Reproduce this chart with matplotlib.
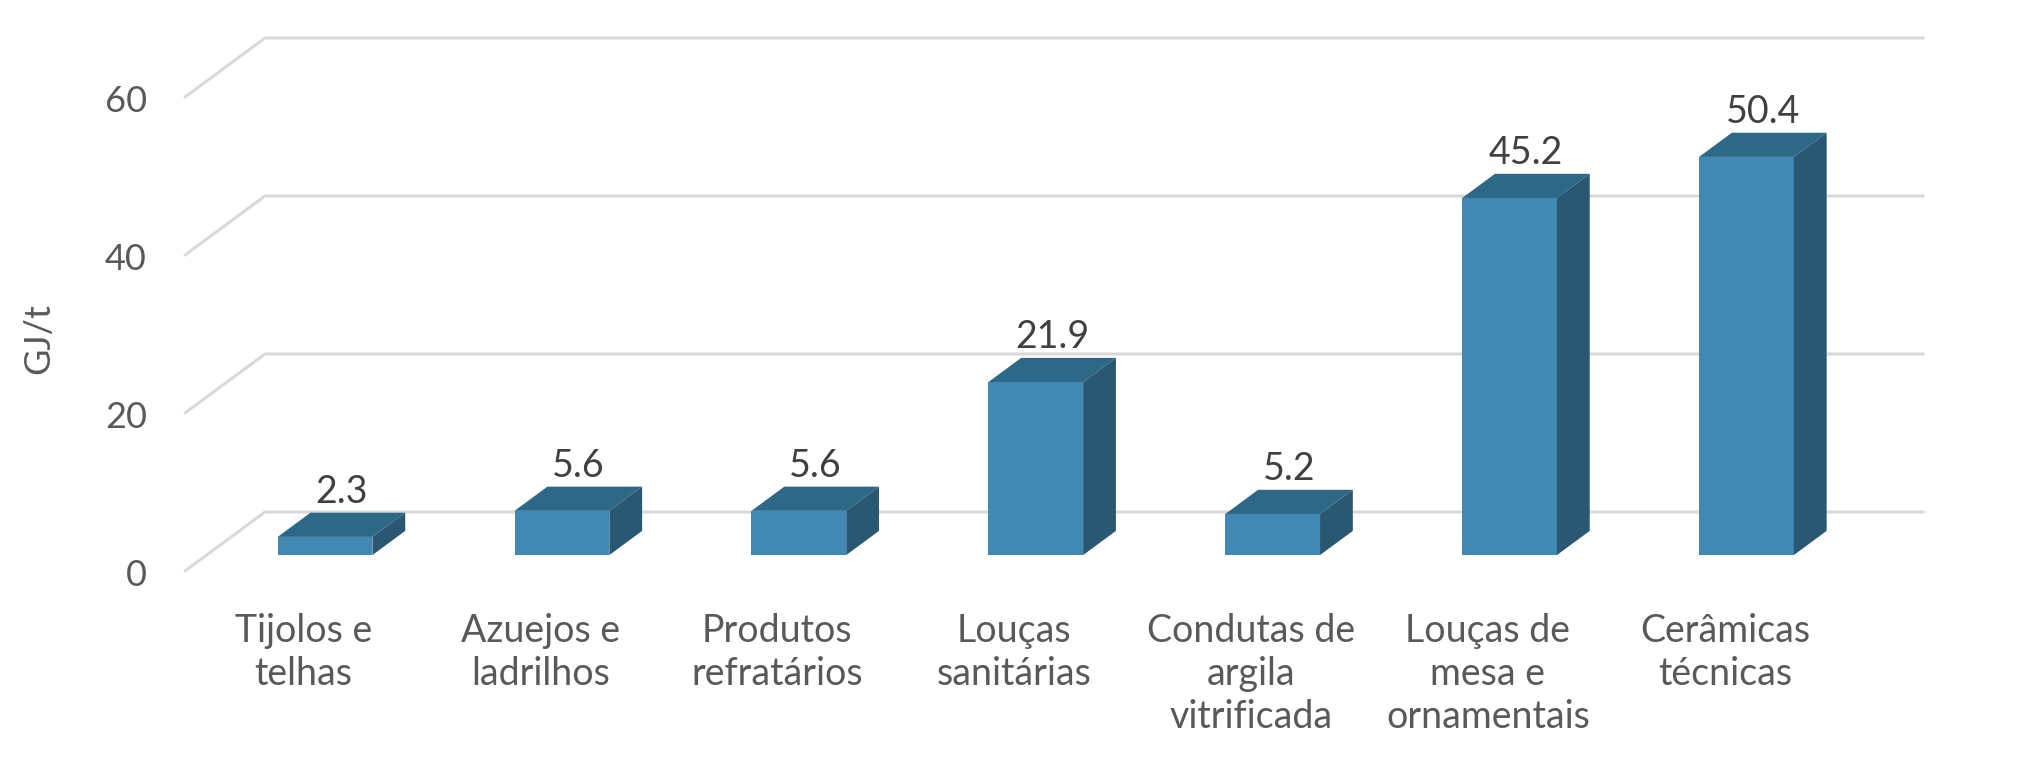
# Consumo específico de energia por tipo de produto cerâmico (GJ/t)
# gráfico de colunas com aspeto 3D, estilo Excel

import matplotlib
matplotlib.use("Agg")
import matplotlib.pyplot as plt
from matplotlib.patches import Polygon, Rectangle

plt.rcParams['font.family'] = ['Lato', 'DejaVu Sans']

# dados
categorias = ["Tijolos e\ntelhas", "Azuejos e\nladrilhos", "Produtos\nrefratários",
              "Louças\nsanitárias", "Condutas de\nargila\nvitrificada",
              "Louças de\nmesa e\nornamentais", "Cerâmicas\ntécnicas"]
valores = [2.3, 5.6, 5.6, 21.9, 5.2, 45.2, 50.4]
marcas_y = [0, 20, 40, 60]
rotulo_y = "GJ/t"

# cores
cor_frente = "#4189b3"
cor_topo = "#2e6887"
cor_lado = "#2a5873"
cor_grelha = "#d9d9d9"
cor_texto = "#595959"
cor_valor = "#404040"

# geometria (pixels da figura)
W, H = 2027, 779
px_cat = 236.9      # largura de cada categoria
px_val = 7.9        # pixels por unidade GJ/t
x0_px = 185         # canto frontal esquerdo do chão
y0_px = 571         # linha frontal do zero (a contar de cima)
prof_dx_px = 80     # deslocamento da profundidade
prof_dy_px = 59
d_frente, d_tras = 0.27, 0.68   # posição das barras na profundidade
larg_barra = 0.40

DX = prof_dx_px / px_cat
DY = prof_dy_px / px_val

def proj(x, v, d):
    return (x + d * DX, v + d * DY)

fig = plt.figure(figsize=(W / 100, H / 100), dpi=100)
ax = fig.add_axes([0, 0, 1, 1])
ax.set_xlim(-0.5 - x0_px / px_cat, -0.5 + (W - x0_px) / px_cat)
ax.set_ylim(-(H - y0_px) / px_val, y0_px / px_val)
ax.axis('off')

n = len(categorias)
x_esq, x_dir = -0.5, n - 0.5

# grelha: parede do fundo + diagonal lateral
for v in marcas_y:
    a = proj(x_esq, v, 0)
    b = proj(x_esq, v, 1)
    c = proj(x_dir, v, 1)
    ax.plot([a[0], b[0], c[0]], [a[1], b[1], c[1]], color=cor_grelha, lw=2.2,
            solid_capstyle='round', zorder=1)
    ax.text(x_esq - 38 / px_cat, v - 5 / px_val, str(v), ha='right', va='center',
            fontsize=26, color=cor_texto)

ax.text(x_esq - 146 / px_cat, (y0_px - 339) / px_val, rotulo_y, rotation=90,
        ha='center', va='center', fontsize=26, color=cor_texto)

# barras
for i, v in enumerate(valores):
    xl = i - larg_barra / 2
    xr = i + larg_barra / 2
    fx, fy = proj(xl, 0, d_frente)
    ax.add_patch(Rectangle((fx, fy), larg_barra, v, facecolor=cor_frente,
                           edgecolor='none', zorder=3))
    topo = [proj(xl, v, d_frente), proj(xr, v, d_frente),
            proj(xr, v, d_tras), proj(xl, v, d_tras)]
    ax.add_patch(Polygon(topo, closed=True, facecolor=cor_topo,
                         edgecolor='none', zorder=3))
    lado = [proj(xr, 0, d_frente), proj(xr, v, d_frente),
            proj(xr, v, d_tras), proj(xr, 0, d_tras)]
    ax.add_patch(Polygon(lado, closed=True, facecolor=cor_lado,
                         edgecolor='none', zorder=3))
    tx, ty = proj(i, v, (d_frente + d_tras) / 2)
    ax.text(tx, v + d_tras * DY + 0.3, f"{v:.1f}", ha='center', va='bottom',
            fontsize=27, color=cor_valor, zorder=4)

# rótulos das categorias
for i, c in enumerate(categorias):
    ax.text(i, -(613 - y0_px) / px_val, c, ha='center', va='top',
            fontsize=27, color=cor_texto, linespacing=1.24)

fig.savefig("out.png", dpi=100, facecolor='white')
